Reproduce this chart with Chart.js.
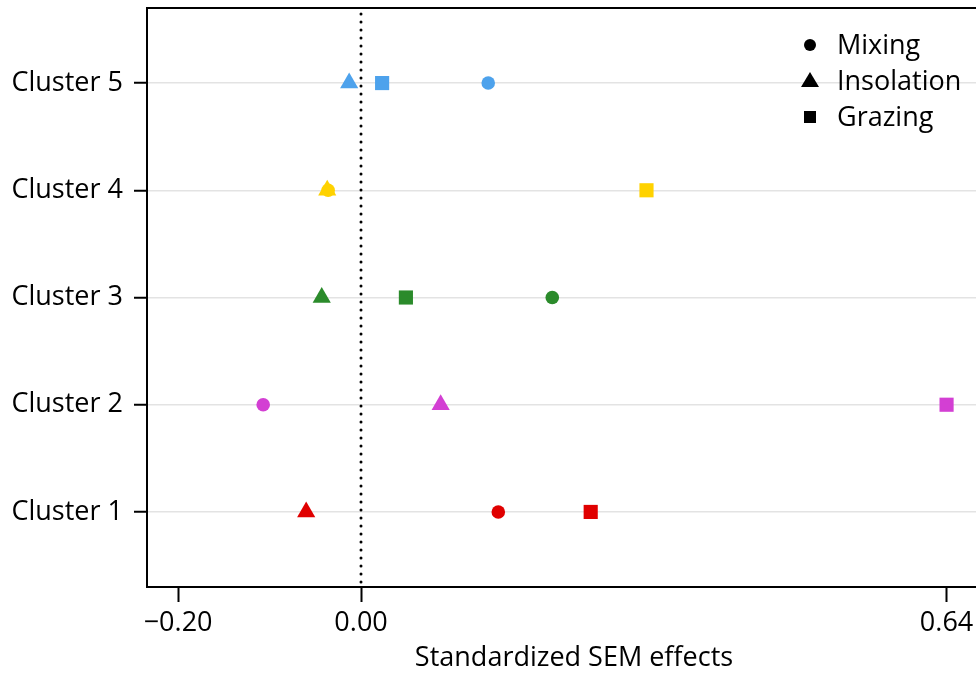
<!DOCTYPE html>
<html>
<head>
<meta charset="utf-8">
<script src="https://cdn.jsdelivr.net/npm/chart.js@4.4.1/dist/chart.umd.min.js"></script>
<style>
    html, body { margin: 0; padding: 0; background: #fff; overflow: hidden; }
    #frame { width: 976px; height: 676px; overflow: hidden; position: relative; }
    /* plot frame continues past the right edge of the visible frame */
    #wrap { width: 1001px; height: 676px; }
</style>
</head>
<body>
<div id="frame"><div id="wrap"><canvas id="semChart"></canvas></div></div>
<script>
// cluster rows, bottom to top
const clusters = ["Cluster 1", "Cluster 2", "Cluster 3", "Cluster 4", "Cluster 5"];
const clusterColors = ["#e00000", "#d33fd3", "#2b8b2b", "#ffd200", "#4da2ec"];

// standardized SEM effects per driver
const mixing = [0.150, -0.107, 0.209, -0.036, 0.139];
const insolation = [-0.060, 0.087, -0.043, -0.037, -0.013];
const grazing = [0.251, 0.640, 0.049, 0.312, 0.023];

const xTicks = [-0.20, 0.00, 0.64];
const xTickLabels = ["\u22120.20", "0.00", "0.64"];

const FONT = "'Open Sans', sans-serif";
const FONT_SIZE = 27;

function toPoints(values) {
    return values.map((v, i) => ({ x: v, y: i + 1 }));
}

// dotted zero line, top frame line and the black symbol legend
const extraPlugin = {
    id: "extraPlugin",
    beforeDatasetsDraw(chart) {
        const ctx = chart.ctx;
        const area = chart.chartArea;
        const x0 = Math.round(chart.scales.x.getPixelForValue(0));
        ctx.save();
        ctx.strokeStyle = "#000";
        ctx.lineWidth = 3;
        ctx.lineCap = "round";
        ctx.setLineDash([0, 8]);
        ctx.beginPath();
        ctx.moveTo(x0, area.top + 6);
        ctx.lineTo(x0, area.bottom);
        ctx.stroke();
        ctx.restore();
    },
    afterDraw(chart) {
        const ctx = chart.ctx;
        const area = chart.chartArea;
        ctx.save();
        ctx.strokeStyle = "#000";
        ctx.lineWidth = 2;
        ctx.beginPath();
        ctx.moveTo(area.left - 1, area.top);
        ctx.lineTo(area.right, area.top);
        ctx.stroke();

        ctx.fillStyle = "#000";
        ctx.font = FONT_SIZE + "px " + FONT;
        ctx.textBaseline = "middle";
        chart.data.datasets.forEach((ds, i) => {
            const x = 810, y = 45 + i * 36;
            ctx.beginPath();
            if (ds.pointStyle === "circle") {
                ctx.arc(x, y, 6, 0, Math.PI * 2);
            } else if (ds.pointStyle === "triangle") {
                ctx.moveTo(x, y - 9);
                ctx.lineTo(x + 9, y + 6);
                ctx.lineTo(x - 9, y + 6);
                ctx.closePath();
            } else {
                ctx.rect(x - 6, y - 6, 12, 12);
            }
            ctx.fill();
            ctx.fillText(ds.label, x + 27, y + 1);
        });
        ctx.restore();
    }
};

const chart = new Chart(document.getElementById("semChart"), {
    type: "scatter",
    data: {
        datasets: [
            {
                label: "Mixing",
                data: toPoints(mixing),
                pointStyle: "circle",
                pointRadius: 6.8,
                pointHoverRadius: 6.8,
                backgroundColor: clusterColors,
                borderColor: clusterColors,
                borderWidth: 0,
                order: 3
            },
            {
                label: "Insolation",
                data: toPoints(insolation),
                pointStyle: "triangle",
                pointRadius: 10.5,
                pointHoverRadius: 10.5,
                backgroundColor: clusterColors,
                borderColor: clusterColors,
                borderWidth: 0,
                order: 2
            },
            {
                label: "Grazing",
                data: toPoints(grazing),
                pointStyle: "rect",
                pointRadius: 10,
                pointHoverRadius: 10,
                backgroundColor: clusterColors,
                borderColor: clusterColors,
                borderWidth: 0,
                order: 1
            }
        ]
    },
    options: {
        responsive: true,
        maintainAspectRatio: false,
        animation: false,
        layout: { autoPadding: false, padding: { top: 8, right: 0, bottom: 0, left: 0 } },
        plugins: {
            legend: { display: false },
            tooltip: { enabled: false }
        },
        scales: {
            x: {
                type: "linear",
                min: -0.234,
                max: 0.6995,
                afterBuildTicks: (scale) => {
                    scale.ticks = xTicks.map(v => ({ value: v }));
                },
                afterFit: (scale) => {
                    scale.height = 89;
                    scale.paddingLeft = 0;
                    scale.paddingRight = 0;
                },
                ticks: {
                    autoSkip: false,
                    maxRotation: 0,
                    padding: 5,
                    color: "#000",
                    font: { family: FONT, size: FONT_SIZE },
                    callback: (value) => {
                        const i = xTicks.findIndex(t => Math.abs(t - value) < 1e-9);
                        return i >= 0 ? xTickLabels[i] : "";
                    }
                },
                grid: {
                    drawOnChartArea: false,
                    tickColor: "#000",
                    tickWidth: 2,
                    tickLength: 15
                },
                border: { display: true, color: "#000", width: 2 },
                title: {
                    display: true,
                    text: "Standardized SEM effects",
                    color: "#000",
                    font: { family: FONT, size: FONT_SIZE },
                    padding: { top: 0, bottom: 1 }
                }
            },
            y: {
                type: "linear",
                min: 0.3,
                max: 5.7,
                afterBuildTicks: (scale) => {
                    scale.ticks = clusters.map((c, i) => ({ value: i + 1 }));
                },
                afterFit: (scale) => {
                    scale.width = 147;
                    scale.paddingTop = 0;
                    scale.paddingBottom = 0;
                },
                ticks: {
                    autoSkip: false,
                    padding: 11,
                    color: "#000",
                    font: { family: FONT, size: FONT_SIZE },
                    callback: (value) => clusters[value - 1] || ""
                },
                grid: {
                    color: "#e3e3e3",
                    lineWidth: 1.5,
                    tickColor: "#000",
                    tickWidth: 2,
                    tickLength: 13
                },
                border: { display: true, color: "#000", width: 2 }
            }
        }
    },
    plugins: [extraPlugin]
});
</script>
</body>
</html>
